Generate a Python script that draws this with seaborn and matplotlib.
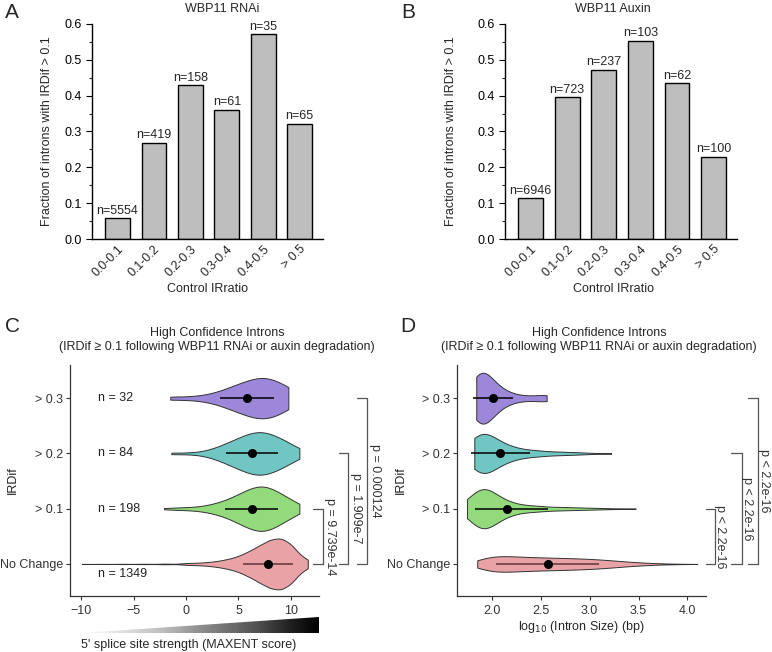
import numpy as np
import pandas as pd
import matplotlib
matplotlib.use("Agg")
import matplotlib.pyplot as plt
import matplotlib.transforms as mtransforms
from matplotlib.patches import Polygon
from matplotlib.ticker import MultipleLocator
import seaborn as sns

sns.set_theme(style="ticks")
plt.rcParams["font.family"] = ["Liberation Sans", "DejaVu Sans"]
plt.rcParams["axes.unicode_minus"] = True

# ---- data: panels A / B ----
ir_bins = ["0.0-0.1", "0.1-0.2", "0.2-0.3", "0.3-0.4", "0.4-0.5", "> 0.5"]
rnai_frac = [0.058, 0.269, 0.430, 0.361, 0.571, 0.322]
rnai_n = [5554, 419, 158, 61, 35, 65]
auxin_frac = [0.114, 0.395, 0.472, 0.553, 0.435, 0.230]
auxin_n = [6946, 723, 237, 103, 62, 100]

# ---- data: panels C / D ----
groups = ["> 0.3", "> 0.2", "> 0.1", "No Change"]
group_n = [32, 84, 198, 1349]
group_colors = ["#9d87d8", "#6fc6c3", "#92da7b", "#e9a3a7"]
line_colors = ["black", "black", "black", "#5c3537"]

# MAXENT score, binned values and counts per group (estimated)
maxent_vals = [
    [-1.5, 1, 2.5, 3.5, 4.5, 5.5, 6.5, 7.5, 8.5, 9.75],
    [-1.4, 0.5, 2, 3, 4, 5, 6, 7, 8, 9, 10, 10.8],
    [-2.1, -1, 0, 1, 2, 3, 4, 5, 6, 7, 8, 9, 10, 10.8],
    [-9.9, -8, -6, -4, -2, 0, 1, 2, 3, 4, 5, 6, 7, 8, 9, 10, 11, 11.6],
]
maxent_counts = [
    [1, 1, 1, 2, 3, 4, 5, 6, 5, 4],
    [1, 1, 2, 4, 7, 10, 13, 15, 13, 10, 6, 2],
    [1, 2, 2, 3, 5, 9, 14, 22, 30, 36, 33, 23, 14, 4],
    [1, 1, 2, 3, 5, 10, 12, 18, 30, 50, 80, 130, 190, 250, 270, 210, 70, 17],
]
maxent_mean = [5.78, 6.25, 6.32, 7.84]
maxent_lo = [3.24, 3.81, 3.75, 5.40]
maxent_hi = [8.38, 8.73, 8.79, 10.16]
maxent_p = ["p = 9.739e-14", "p = 1.909e-7", "p = 0.000124"]

# log10 intron size, binned values and counts per group (estimated)
size_vals = [
    [1.84, 1.88, 1.93, 2.0, 2.08, 2.18, 2.3, 2.42, 2.56],
    [1.82, 1.87, 1.93, 2.0, 2.1, 2.2, 2.35, 2.5, 2.7, 2.9, 3.22],
    [1.745, 1.8, 1.87, 1.93, 2.0, 2.1, 2.2, 2.35, 2.5, 2.7, 2.9, 3.1, 3.3, 3.47],
    [1.85, 1.95, 2.05, 2.15, 2.25, 2.35, 2.45, 2.55, 2.65, 2.75, 2.85, 2.95,
     3.05, 3.15, 3.25, 3.35, 3.45, 3.55, 3.65, 3.75, 3.85, 3.95, 4.1],
]
size_counts = [
    [5, 8, 6, 4, 3, 2, 1, 1, 2],
    [10, 16, 16, 11, 9, 7, 5, 4, 3, 2, 1],
    [6, 20, 35, 38, 28, 20, 14, 11, 9, 7, 5, 3, 1, 1],
    [45, 104, 114, 109, 104, 96, 92, 89, 85, 82, 78, 73,
     67, 58, 47, 36, 26, 18, 12, 7, 4, 2, 1],
]
size_mean = [2.01, 2.085, 2.15, 2.57]
size_lo = [1.81, 1.785, 1.83, 2.04]
size_hi = [2.22, 2.39, 2.57, 3.10]
size_p = ["p < 2.2e-16", "p < 2.2e-16", "p < 2.2e-16"]

W, H = 772, 652
fig = plt.figure(figsize=(W / 100, H / 100), dpi=100)


def px_rect(x0, y0, x1, y1):
    return [x0 / W, 1 - y1 / H, (x1 - x0) / W, (y1 - y0) / H]


def bar_panel(ax, frac, ns, ylab_x, xlab_x):
    sns.barplot(x=ir_bins, y=frac, color="#bebebe", edgecolor="black",
                linewidth=1, width=0.68, saturation=1, ax=ax)
    ax.bar_label(ax.containers[0], labels=[f"n={n}" for n in ns],
                 padding=1, fontsize=9)
    ax.set_ylim(0, 0.6)
    ax.set_xlim(-0.7, 5.64)
    ax.yaxis.set_major_locator(MultipleLocator(0.1))
    ax.yaxis.set_minor_locator(MultipleLocator(0.05))
    ax.yaxis.set_major_formatter("{x:.1f}")
    ax.tick_params(axis="y", which="major", length=4, width=0.8, labelsize=9, colors="black")
    ax.tick_params(axis="y", which="minor", length=2, width=0.8)
    ax.tick_params(axis="x", length=0, labelsize=9, pad=3)
    for lab in ax.get_xticklabels():
        lab.set_rotation(45)
        lab.set_ha("right")
        lab.set_rotation_mode("anchor")
    ax.set_xlabel("Control IRratio", fontsize=9)
    ax.set_ylabel("Fraction of introns with IRDif > 0.1", fontsize=9)
    ax.yaxis.set_label_coords(ylab_x, 0.5)
    ax.xaxis.set_label_coords(xlab_x, -0.205)
    sns.despine(ax=ax)
    for s in ["left", "bottom"]:
        ax.spines[s].set_color("black")
        ax.spines[s].set_linewidth(1)


def violin_panel(ax, vals, counts, means, los, his, bw):
    df = pd.DataFrame({
        "IRDif": np.repeat(groups, [sum(c) for c in counts]),
        "value": np.concatenate([np.repeat(v, c) for v, c in zip(vals, counts)]),
    })
    sns.violinplot(data=df, x="value", y="IRDif", hue="IRDif", order=groups,
                   hue_order=groups, palette=group_colors, legend=False,
                   inner=None, cut=0, density_norm="area", common_norm=True,
                   width=0.92, linewidth=0.7, linecolor="#333333",
                   saturation=1, bw_adjust=bw, ax=ax)
    pos = np.arange(len(groups))
    ax.hlines(pos, los, his, colors=line_colors, linewidth=1.1, zorder=3)
    ax.plot(means, pos, "o", color="black", ms=5.5, zorder=4)
    ax.set_ylim(3.58, -0.6)
    ax.tick_params(axis="both", length=3, width=0.8, colors="#333333",
                   labelsize=9, labelcolor="#333333")
    ax.tick_params(axis="y", pad=2)
    ax.set_ylabel("IRDif", fontsize=9, color="#222222")
    sns.despine(ax=ax)
    for s in ["left", "bottom"]:
        ax.spines[s].set_color("#333333")
        ax.spines[s].set_linewidth(0.9)


def brackets(ax, xs, labels):
    tr = mtransforms.blended_transform_factory(ax.transAxes, ax.transData)
    last = len(groups) - 1
    for i, ((x0, x1, tx), lab) in enumerate(zip(xs, labels)):
        top = last - 1 - i
        ax.plot([x0, x1, x1, x0], [top, top, last, last], transform=tr,
                clip_on=False, color="#555555", lw=0.9)
        ax.text(tx, (top + last) / 2, lab, rotation=-90, ha="center",
                va="center", transform=tr, fontsize=9, color="#333333")


# ---- A ----
axA = fig.add_axes(px_rect(92, 24, 323, 239))
bar_panel(axA, rnai_frac, rnai_n, -0.169, 0.50)
fig.text(222 / W, 1 - 9 / H, "WBP11 RNAi", ha="center", va="center", fontsize=9)

# ---- B ----
axB = fig.add_axes(px_rect(505, 24, 737, 239))
bar_panel(axB, auxin_frac, auxin_n, -0.207, 0.466)
fig.text(613 / W, 1 - 9 / H, "WBP11 Auxin", ha="center", va="center", fontsize=9)

# ---- C ----
axC = fig.add_axes(px_rect(70, 365, 319, 596))
violin_panel(axC, maxent_vals, maxent_counts, maxent_mean, maxent_lo, maxent_hi, 1.0)
axC.set_xlim(-11.05, 12.67)
axC.set_xticks([-10, -5, 0, 5, 10])
axC.set_xlabel("")
axC.yaxis.set_label_coords(-0.205, 0.5)
for i, n in enumerate(group_n):
    dy = 0.18 if groups[i] == "No Change" else 0
    axC.text(-8.4, i + dy, f"n = {n}", ha="left", va="center", fontsize=9, color="#222222")
brackets(axC, [(0.976, 1.016, 1.044), (1.080, 1.116, 1.149), (1.153, 1.193, 1.225)], maxent_p)
fig.text(217 / W, 1 - 333 / H, "High Confidence Introns", ha="center", va="center", fontsize=9)
fig.text(217 / W, 1 - 347 / H, "(IRDif \u2265 0.1 following WBP11 RNAi or auxin degradation)",
         ha="center", va="center", fontsize=9)

# gradient wedge under C
wax = fig.add_axes(px_rect(81, 617, 319, 633))
grad = np.linspace(0, 1, 256).reshape(1, -1)
im = wax.imshow(grad, cmap="Greys", aspect="auto", extent=[0, 1, 0, 1],
                vmin=-0.05, vmax=1.0)
im.set_clip_path(Polygon([(0, 0), (1, 0), (1, 1)], transform=wax.transData))
wax.set_xlim(0, 1)
wax.set_ylim(0, 1)
wax.axis("off")
fig.text(189 / W, 1 - 645 / H, "5' splice site strength (MAXENT score)",
         ha="center", va="center", fontsize=9)

# ---- D ----
axD = fig.add_axes(px_rect(456.7, 365, 706, 596))
violin_panel(axD, size_vals, size_counts, size_mean, size_lo, size_hi, 1.0)
axD.set_xlim(1.64, 4.19)
axD.set_xticks([2.0, 2.5, 3.0, 3.5, 4.0])
axD.xaxis.set_major_formatter("{x:.1f}")
axD.set_xlabel(r"log$_{10}$ (Intron Size) (bp)", fontsize=9)
axD.xaxis.set_label_coords(0.5, -0.1)
axD.yaxis.set_label_coords(-0.199, 0.5)
brackets(axD, [(1.0, 1.036, 1.056), (1.101, 1.145, 1.165), (1.169, 1.209, 1.233)], size_p)
fig.text(599 / W, 1 - 333 / H, "High Confidence Introns", ha="center", va="center", fontsize=9)
fig.text(599 / W, 1 - 347 / H, "(IRDif \u2265 0.1 following WBP11 RNAi or auxin degradation)",
         ha="center", va="center", fontsize=9)

# panel letters
for lab, x, y in [("A", 12, 13), ("B", 408, 13), ("C", 12, 326), ("D", 408, 326)]:
    fig.text(x / W, 1 - y / H, lab, ha="center", va="center", fontsize=15)

fig.savefig("out.png", dpi=100)
